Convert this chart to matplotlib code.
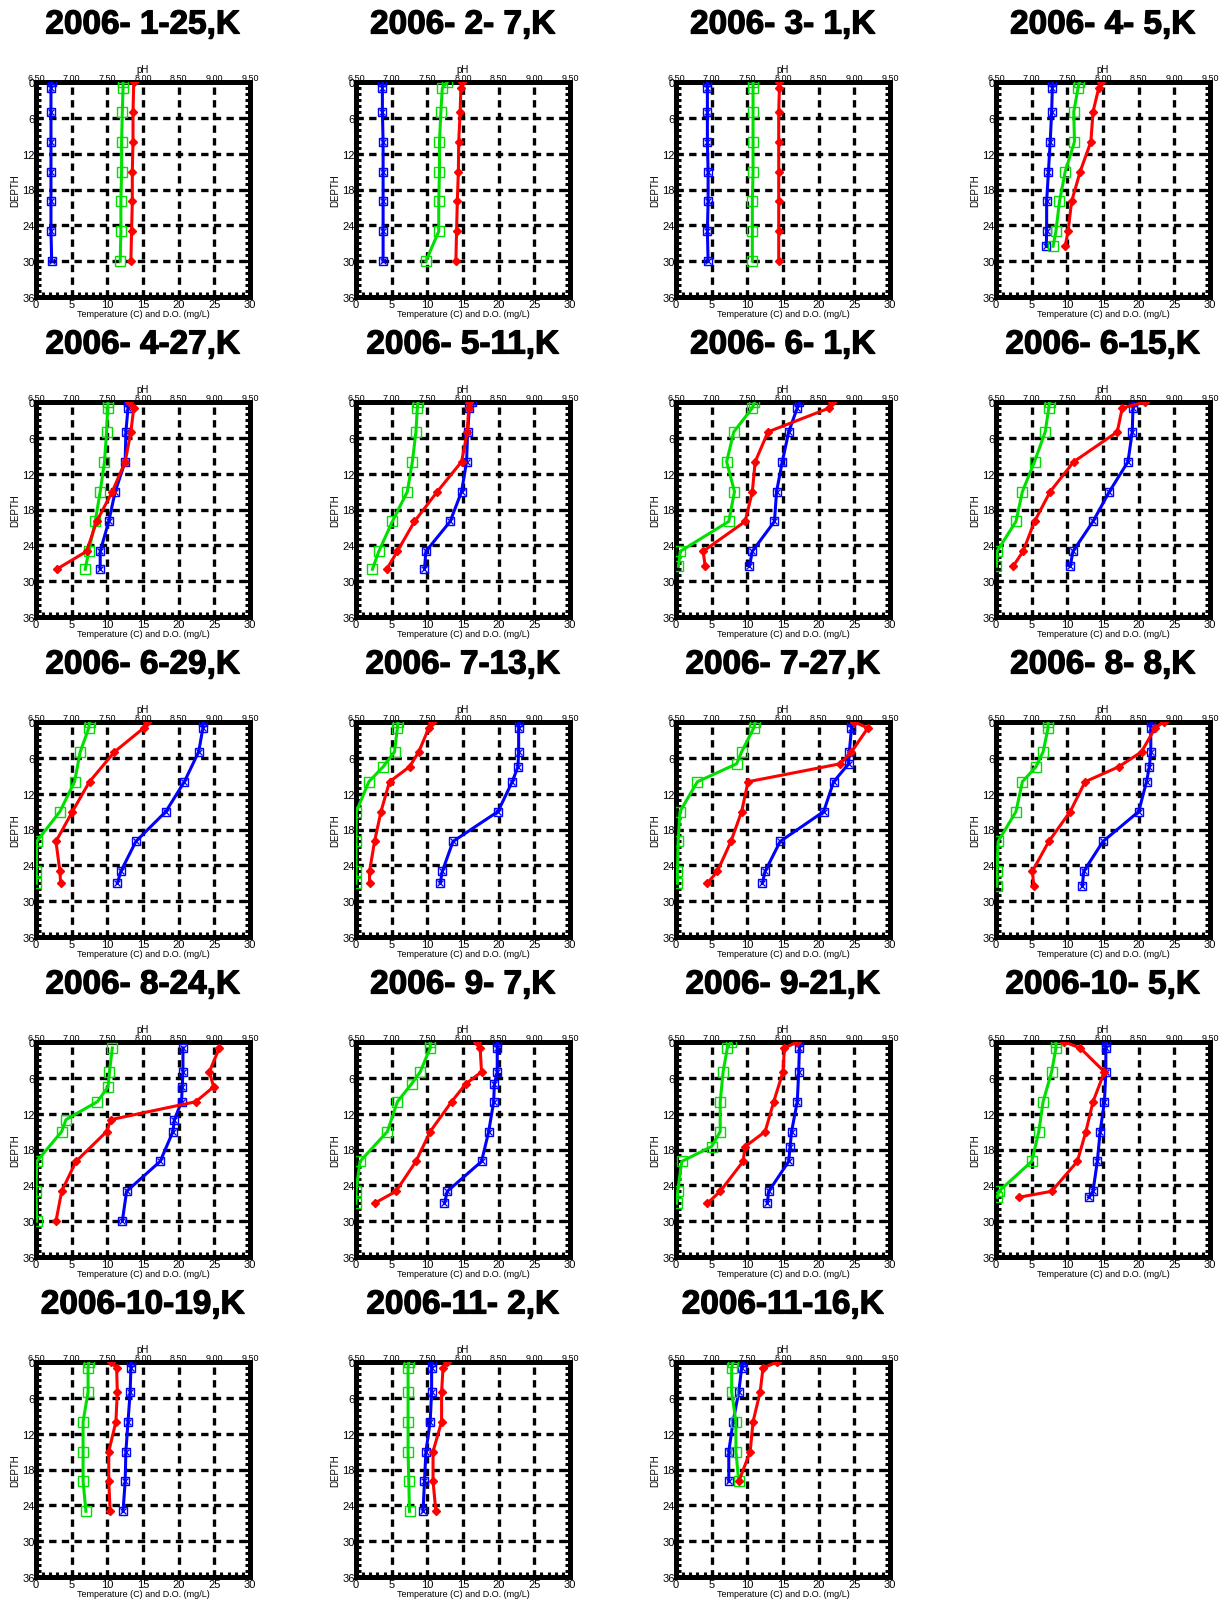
import matplotlib
matplotlib.use("Agg")
import matplotlib.pyplot as plt
import matplotlib.patheffects as pe
from matplotlib.ticker import MultipleLocator, FixedLocator, FormatStrFormatter

plt.rcParams['font.family'] = ['Liberation Sans', 'DejaVu Sans']

# ---------------- data (depth in m, temperature C, D.O. mg/L, pH) ----------------
titles = ["2006- 1-25,K", "2006- 2- 7,K", "2006- 3- 1,K", "2006- 4- 5,K",
          "2006- 4-27,K", "2006- 5-11,K", "2006- 6- 1,K", "2006- 6-15,K",
          "2006- 6-29,K", "2006- 7-13,K", "2006- 7-27,K", "2006- 8- 8,K",
          "2006- 8-24,K", "2006- 9- 7,K", "2006- 9-21,K", "2006-10- 5,K",
          "2006-10-19,K", "2006-11- 2,K", "2006-11-16,K"]

z_0125 = [0, 1, 5, 10, 15, 20, 25, 30]
t_0125 = [2.2, 2.1, 2.1, 2.1, 2.1, 2.1, 2.1, 2.2]
do_0125 = [12.2, 12.2, 12.1, 12.0, 12.0, 11.9, 11.9, 11.8]
zp_0125 = [0, 5, 10, 15, 20, 25, 30]
ph_0125 = [7.87, 7.86, 7.86, 7.85, 7.85, 7.84, 7.83]

z_0207 = [0, 1, 5, 10, 15, 20, 25, 30]
t_0207 = [3.7, 3.7, 3.7, 3.8, 3.8, 3.8, 3.8, 3.8]
do_0207 = [12.8, 12.1, 11.9, 11.7, 11.7, 11.6, 11.6, 9.8]
ph_0207 = [7.99, 7.97, 7.96, 7.94, 7.935, 7.92, 7.91, 7.90]

z_0301 = [0, 1, 5, 10, 15, 20, 25, 30]
t_0301 = [4.4, 4.4, 4.4, 4.4, 4.5, 4.5, 4.4, 4.5]
do_0301 = [10.8, 10.8, 10.8, 10.8, 10.8, 10.7, 10.7, 10.7]
ph_0301 = [7.94, 7.95, 7.94, 7.94, 7.94, 7.94, 7.94, 7.94]

z_0405 = [0, 1, 5, 10, 15, 20, 25, 27.5]
t_0405 = [7.9, 7.9, 7.8, 7.6, 7.35, 7.1, 7.1, 7.05]
do_0405 = [11.7, 11.5, 10.9, 11.0, 9.7, 8.9, 8.4, 8.0]
ph_0405 = [7.97, 7.94, 7.86, 7.83, 7.68, 7.56, 7.51, 7.47]

z_0427 = [0, 1, 5, 10, 15, 20, 25, 28]
t_0427 = [12.9, 12.9, 12.6, 12.5, 11.1, 10.2, 9.0, 9.0]
do_0427 = [10.1, 10.05, 9.9, 9.6, 9.0, 8.3, 7.4, 6.9]
ph_0427 = [7.80, 7.87, 7.83, 7.75, 7.57, 7.35, 7.21, 6.79]

z_0511 = [0, 1, 5, 10, 15, 20, 25, 28]
t_0511 = [16.2, 15.9, 15.65, 15.5, 14.8, 13.2, 9.8, 9.6]
do_0511 = [8.7, 8.6, 8.4, 7.9, 7.2, 5.1, 3.2, 2.3]
ph_0511 = [8.08, 8.08, 8.06, 7.98, 7.64, 7.32, 7.08, 6.93]

z_0601 = [0, 1, 5, 10, 15, 20, 25, 27.5]
t_0601 = [17.3, 17.0, 15.8, 14.9, 14.1, 13.8, 10.7, 10.3]
do_0601 = [11.0, 10.7, 8.1, 7.1, 8.2, 7.4, 0.6, 0.35]
ph_0601 = [8.68, 8.65, 7.79, 7.61, 7.57, 7.47, 6.88, 6.91]

z_0615 = [0, 1, 5, 10, 15, 20, 25, 27.5]
t_0615 = [19.2, 19.2, 19.1, 18.5, 15.9, 13.6, 10.8, 10.4]
do_0615 = [7.5, 7.4, 6.9, 5.4, 3.7, 2.8, 0.15, 0.05]
ph_0615 = [8.59, 8.27, 8.20, 7.59, 7.26, 7.04, 6.88, 6.74]

z_0629 = [0, 1, 5, 10, 15, 20, 25, 27]
t_0629 = [23.4, 23.4, 22.8, 20.8, 18.2, 14.0, 11.9, 11.4]
do_0629 = [7.5, 7.4, 6.2, 5.4, 3.35, 0.1, 0.05, 0.05]
ph_0629 = [8.05, 8.01, 7.60, 7.25, 7.01, 6.78, 6.835, 6.845]

z_0713 = [0, 1, 5, 7.5, 10, 15, 20, 25, 27]
t_0713 = [22.8, 22.8, 22.8, 22.7, 21.9, 19.9, 13.6, 12.1, 11.8]
do_0713 = [5.9, 5.8, 5.4, 3.8, 1.8, 0.05, 0.0, 0.0, 0.0]
ph_0713 = [7.56, 7.52, 7.38, 7.25, 6.97, 6.85, 6.76, 6.69, 6.69]

z_0727 = [0, 1, 5, 7, 10, 15, 20, 25, 27]
t_0727 = [24.6, 24.6, 24.3, 24.2, 22.1, 20.7, 14.6, 12.5, 12.1]
do_0727 = [11.1, 10.9, 9.2, 8.5, 3.0, 0.56, 0.3, 0.2, 0.2]
ph_0727 = [9.00, 9.19, 8.96, 8.80, 7.51, 7.42, 7.27, 7.08, 6.94]

z_0808 = [0, 1, 5, 7.5, 10, 15, 20, 25, 27.5]
t_0808 = [21.7, 21.7, 21.7, 21.5, 21.1, 20.0, 15.0, 12.3, 12.1]
do_0808 = [7.3, 7.3, 6.6, 5.6, 3.7, 2.8, 0.3, 0.14, 0.14]
ph_0808 = [8.85, 8.73, 8.54, 8.22, 7.75, 7.54, 7.24, 7.01, 7.03]

z_0824 = [1, 5, 7.5, 10, 13, 15, 20, 25, 30]
t_0824 = [20.6, 20.6, 20.5, 20.4, 19.4, 19.2, 17.4, 12.7, 12.1]
do_0824 = [10.7, 10.3, 10.1, 8.6, 4.2, 3.6, 0.1, 0.0, 0.1]
ph_0824 = [9.07, 8.93, 8.99, 8.74, 7.55, 7.49, 7.06, 6.86, 6.78]

z_0907 = [0, 1, 5, 7, 10, 15, 20, 25, 27]
t_0907 = [19.8, 19.8, 19.8, 19.4, 19.3, 18.6, 17.6, 12.8, 12.4]
do_0907 = [10.4, 10.4, 9.0, 7.8, 5.8, 4.4, 0.56, 0.0, 0.0]
ph_0907 = [8.20, 8.24, 8.26, 8.04, 7.84, 7.54, 7.34, 7.06, 6.76]

z_0921 = [0, 1, 5, 10, 15, 17.5, 20, 25, 27]
t_0921 = [17.3, 17.3, 17.2, 17.0, 16.2, 16.0, 15.8, 13.0, 12.8]
do_0921 = [7.7, 7.2, 6.6, 6.2, 6.2, 5.0, 0.8, 0.24, 0.08]
ph_0921 = [8.20, 8.02, 8.00, 7.87, 7.75, 7.47, 7.44, 7.12, 6.94]

z_1005 = [0, 1, 5, 10, 15, 20, 25, 26]
t_1005 = [15.4, 15.4, 15.4, 15.2, 14.6, 14.2, 13.6, 13.0]
do_1005 = [8.4, 8.4, 7.8, 6.6, 6.0, 5.0, 0.4, 0.16]
ph_1005 = [7.46, 7.68, 8.02, 7.86, 7.76, 7.64, 7.28, 6.82]

z_1019 = [0, 1, 5, 10, 15, 20, 25]
t_1019 = [13.3, 13.3, 13.2, 12.9, 12.6, 12.5, 12.2]
do_1019 = [7.4, 7.3, 7.3, 6.6, 6.6, 6.6, 7.0]
ph_1019 = [7.55, 7.63, 7.64, 7.62, 7.52, 7.52, 7.54]

z_1102 = [0, 1, 5, 10, 15, 20, 25]
t_1102 = [10.6, 10.6, 10.6, 10.4, 9.8, 9.6, 9.4]
do_1102 = [7.4, 7.3, 7.3, 7.3, 7.3, 7.4, 7.5]
ph_1102 = [7.78, 7.72, 7.70, 7.70, 7.58, 7.58, 7.62]

z_1116 = [0, 1, 5, 10, 15, 20]
t_1116 = [9.4, 9.2, 8.8, 8.0, 7.4, 7.4]
do_1116 = [8.0, 7.8, 7.8, 8.4, 8.4, 8.8]
ph_1116 = [7.92, 7.72, 7.68, 7.58, 7.54, 7.38]

panels = [
    (z_0125, t_0125, do_0125, zp_0125, ph_0125),
    (z_0207, t_0207, do_0207, z_0207, ph_0207),
    (z_0301, t_0301, do_0301, z_0301, ph_0301),
    (z_0405, t_0405, do_0405, z_0405, ph_0405),
    (z_0427, t_0427, do_0427, z_0427, ph_0427),
    (z_0511, t_0511, do_0511, z_0511, ph_0511),
    (z_0601, t_0601, do_0601, z_0601, ph_0601),
    (z_0615, t_0615, do_0615, z_0615, ph_0615),
    (z_0629, t_0629, do_0629, z_0629, ph_0629),
    (z_0713, t_0713, do_0713, z_0713, ph_0713),
    (z_0727, t_0727, do_0727, z_0727, ph_0727),
    (z_0808, t_0808, do_0808, z_0808, ph_0808),
    (z_0824, t_0824, do_0824, z_0824, ph_0824),
    (z_0907, t_0907, do_0907, z_0907, ph_0907),
    (z_0921, t_0921, do_0921, z_0921, ph_0921),
    (z_1005, t_1005, do_1005, z_1005, ph_1005),
    (z_1019, t_1019, do_1019, z_1019, ph_1019),
    (z_1102, t_1102, do_1102, z_1102, ph_1102),
    (z_1116, t_1116, do_1116, z_1116, ph_1116),
]

x_ticks = [0, 5, 10, 15, 20, 25, 30]
y_ticks = [0, 6, 12, 18, 24, 30, 36]
ph_ticks = [6.5, 7.0, 7.5, 8.0, 8.5, 9.0, 9.5]

# ---------------- layout ----------------
W, H = 1225, 1606
fig = plt.figure(figsize=(W / 100, H / 100), dpi=100)

AX_W, AX_H = 214, 215
X0, Y0, DX, DY = 36, 83, 320, 320

BLUE = '#0000ff'
GREEN = '#00e000'
RED = '#ff0000'

for i, (z, t, do, zp, ph) in enumerate(panels):
    r, c = divmod(i, 4)
    left = X0 + DX * c
    top = Y0 + DY * r
    ax = fig.add_axes([left / W, 1 - (top + AX_H) / H, AX_W / W, AX_H / H])
    ax.set_xlim(0, 30)
    ax.set_ylim(36, 0)

    ax.grid(True, color='black', linestyle=(0, (2.2, 1.6)), linewidth=2.4)
    ax.set_axisbelow(True)

    # temperature (blue, boxed x)
    ax.plot(t, z, color=BLUE, lw=2.2, marker='s', ms=6, mfc='none',
            mec=BLUE, mew=1.0, zorder=3)
    ax.plot(t, z, linestyle='none', marker='x', ms=5, mec=BLUE, mew=0.9, zorder=3)
    # dissolved oxygen (green, open square)
    ax.plot(do, z, color=GREEN, lw=2.2, marker='s', ms=6.5, mfc='none',
            mec=GREEN, mew=1.0, zorder=3)

    ax.xaxis.set_major_locator(FixedLocator(x_ticks))
    ax.yaxis.set_major_locator(FixedLocator(y_ticks))
    ax.xaxis.set_minor_locator(MultipleLocator(1))
    ax.yaxis.set_minor_locator(MultipleLocator(1))
    ax.tick_params(which='both', direction='in', top=True, right=True,
                   bottom=True, left=True, labeltop=False)
    ax.tick_params(which='major', length=3.5, width=2.2)
    ax.tick_params(which='minor', length=3.5, width=2.2)
    ax.tick_params(axis='x', labelsize=8, pad=1.5)
    ax.tick_params(axis='y', labelsize=8, pad=1)
    for s in ax.spines.values():
        s.set_linewidth(3.6)
    ax.set_xlabel("Temperature (C) and D.O. (mg/L)", fontsize=6.5, labelpad=0)
    ax.set_ylabel("DEPTH", fontsize=7, labelpad=1)

    # pH on the top axis
    ax2 = ax.twiny()
    ax2.set_xlim(6.5, 9.5)
    ax2.xaxis.set_major_locator(FixedLocator(ph_ticks))
    ax2.xaxis.set_major_formatter(FormatStrFormatter('%.2f'))
    ax2.tick_params(axis='x', which='both', length=0, labelsize=6.5, pad=0)
    ax2.set_xlabel("pH", fontsize=7, labelpad=1)
    for s in ax2.spines.values():
        s.set_visible(False)
    ax2.plot(ph, zp, color=RED, lw=2.2, marker='D', ms=4, mfc=RED, mec=RED, zorder=4)

    fig.text((left + AX_W / 2) / W, 1 - (top - 57) / H, titles[i],
             ha='center', va='center', fontsize=24, fontweight='bold',
             path_effects=[pe.withStroke(linewidth=0.9, foreground='black')])

fig.savefig("out.png", dpi=100)
